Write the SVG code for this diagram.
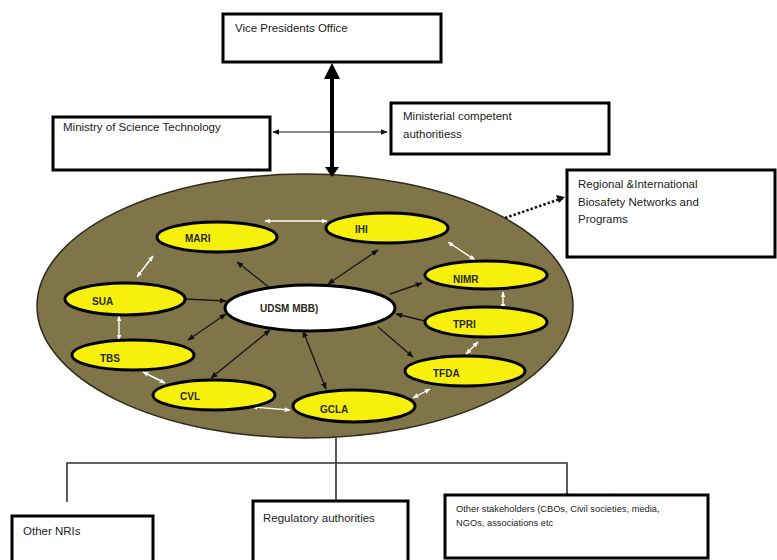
<svg xmlns="http://www.w3.org/2000/svg" width="777" height="560" viewBox="0 0 777 560">
<style>
.box{fill:#fff;stroke:#000;stroke-width:3}
.t{font-family:"Liberation Sans",Arial,sans-serif;font-size:11.5px;fill:#222}
.ts{font-family:"Liberation Sans",Arial,sans-serif;font-size:9.3px;fill:#222}
.yn{fill:#f7ef0c;stroke:#000;stroke-width:3}
.nl{font-family:"Liberation Sans",Arial,sans-serif;font-size:10px;font-weight:bold;fill:#2a2a1a}
.ba{stroke:#1a1a1a;stroke-width:1.4;fill:none}
.wa{stroke:#fff;stroke-width:1.4;fill:none}
.tree{stroke:#333;stroke-width:1.6;fill:none}
</style>
<defs>
<marker id="ab" viewBox="0 0 10 10" refX="9" refY="5" markerWidth="7" markerHeight="7" markerUnits="userSpaceOnUse" orient="auto-start-reverse"><path d="M0,1 L10,5 L0,9 z" fill="#111"/></marker>
<marker id="aw" viewBox="0 0 10 10" refX="9" refY="5" markerWidth="6" markerHeight="6" markerUnits="userSpaceOnUse" orient="auto-start-reverse"><path d="M0,1 L10,5 L0,9 z" fill="#fff"/></marker>
</defs>
<rect width="777" height="560" fill="#fff"/>

<g id="network">
<ellipse cx="305" cy="306" rx="268" ry="132" fill="#7f7548" stroke="#2e2a1c" stroke-width="1.5"/>
</g>

<g id="connectors">
<line x1="332" y1="76" x2="332" y2="169" stroke="#000" stroke-width="4"/>
<polygon points="332,63 324,79 340,79" fill="#000"/>
<polygon points="332,177 325,167 339,167" fill="#000"/>
<line x1="273" y1="132" x2="387" y2="132" stroke="#111" stroke-width="1.2" marker-start="url(#ab)" marker-end="url(#ab)"/>
<line x1="505" y1="218" x2="563" y2="198" stroke="#111" stroke-width="2.5" stroke-dasharray="2.5,2"/>
<polygon points="565,197 556,195 559,203" fill="#111"/>

<line class="ba" x1="270" y1="288" x2="237" y2="262" marker-end="url(#ab)"/>
<line class="ba" x1="328" y1="284" x2="378" y2="250" marker-start="url(#ab)" marker-end="url(#ab)"/>
<line class="ba" x1="185" y1="299" x2="226" y2="301" marker-end="url(#ab)"/>
<line class="ba" x1="390" y1="294" x2="422" y2="283" marker-end="url(#ab)"/>
<line class="ba" x1="425" y1="321" x2="396" y2="314" marker-end="url(#ab)"/>
<line class="ba" x1="378" y1="327" x2="413" y2="357" marker-end="url(#ab)"/>
<line class="ba" x1="303" y1="331" x2="326" y2="389" marker-start="url(#ab)" marker-end="url(#ab)"/>
<line class="ba" x1="270" y1="330" x2="211" y2="378" marker-start="url(#ab)" marker-end="url(#ab)"/>
<line class="ba" x1="226" y1="314" x2="188" y2="340" marker-start="url(#ab)" marker-end="url(#ab)"/>

<line class="wa" x1="265" y1="221" x2="327" y2="221" marker-start="url(#aw)" marker-end="url(#aw)"/>
<line class="wa" x1="153" y1="256" x2="137" y2="277" marker-start="url(#aw)" marker-end="url(#aw)"/>
<line class="wa" x1="448" y1="242" x2="475" y2="260" marker-start="url(#aw)" marker-end="url(#aw)"/>
<line class="wa" x1="503" y1="292" x2="503" y2="309" marker-start="url(#aw)" marker-end="url(#aw)"/>
<line class="wa" x1="478" y1="342" x2="466" y2="354" marker-start="url(#aw)" marker-end="url(#aw)"/>
<line class="wa" x1="119" y1="316" x2="119" y2="340" marker-start="url(#aw)" marker-end="url(#aw)"/>
<line class="wa" x1="143" y1="372" x2="165" y2="383" marker-start="url(#aw)" marker-end="url(#aw)"/>
<line class="wa" x1="252" y1="407" x2="290" y2="410" marker-start="url(#aw)" marker-end="url(#aw)"/>
<line class="wa" x1="413" y1="398" x2="430" y2="389" marker-start="url(#aw)" marker-end="url(#aw)"/>

<line class="tree" x1="336" y1="438" x2="336" y2="501"/>
<polyline class="tree" points="67,502 67,463 567,463 567,495"/>
</g>

<g id="vp"><rect class="box" x="223" y="14" width="218" height="48"/><text class="t" x="235" y="32">Vice Presidents Office</text></g>
<g id="ministry"><rect class="box" x="53" y="117" width="217" height="53"/><text class="t" x="63" y="131">Ministry of Science Technology</text></g>
<g id="ministerial"><rect class="box" x="391" y="103" width="218" height="51"/><text class="t" x="403" y="120">Ministerial competent</text><text class="t" x="403" y="138">authoritiess</text></g>
<g id="regional"><rect class="box" x="567" y="170" width="208" height="87"/><text class="t" x="578" y="188">Regional &amp;International</text><text class="t" x="578" y="206">Biosafety Networks and</text><text class="t" x="578" y="223">Programs</text></g>

<g id="udsm"><ellipse cx="310" cy="308" rx="85" ry="23" fill="#fff" stroke="#000" stroke-width="3"/><text class="nl" x="260" y="312">UDSM MBB)</text></g>
<g id="mari"><ellipse class="yn" cx="217" cy="237" rx="60" ry="15"/><text class="nl" x="185" y="242">MARI</text></g>
<g id="ihi"><ellipse class="yn" cx="387" cy="228" rx="61" ry="15"/><text class="nl" x="355" y="233">IHI</text></g>
<g id="sua"><ellipse class="yn" cx="125" cy="299" rx="60" ry="16"/><text class="nl" x="92" y="305">SUA</text></g>
<g id="nimr"><ellipse class="yn" cx="486" cy="275" rx="61" ry="14"/><text class="nl" x="453" y="283">NIMR</text></g>
<g id="tpri"><ellipse class="yn" cx="486" cy="322" rx="61" ry="15"/><text class="nl" x="453" y="328">TPRI</text></g>
<g id="tfda"><ellipse class="yn" cx="465" cy="371" rx="60" ry="15"/><text class="nl" x="433" y="377">TFDA</text></g>
<g id="tbs"><ellipse class="yn" cx="133" cy="355" rx="61" ry="15"/><text class="nl" x="100" y="362">TBS</text></g>
<g id="cvl"><ellipse class="yn" cx="214" cy="395" rx="61" ry="15"/><text class="nl" x="180" y="400">CVL</text></g>
<g id="gcla"><ellipse class="yn" cx="354" cy="406" rx="61" ry="16"/><text class="nl" x="320" y="413">GCLA</text></g>

<g id="nris"><rect class="box" x="12" y="516" width="141" height="50"/><text class="t" x="23" y="535">Other NRIs</text></g>
<g id="regulatory"><rect class="box" x="253" y="501" width="155" height="65"/><text class="t" x="263" y="522">Regulatory authorities</text></g>
<g id="stakeholders"><rect class="box" x="445" y="495" width="263" height="63"/><text class="ts" x="456" y="512">Other stakeholders (CBOs, Civil societies, media,</text><text class="ts" x="456" y="526">NGOs, associations etc</text></g>
</svg>
